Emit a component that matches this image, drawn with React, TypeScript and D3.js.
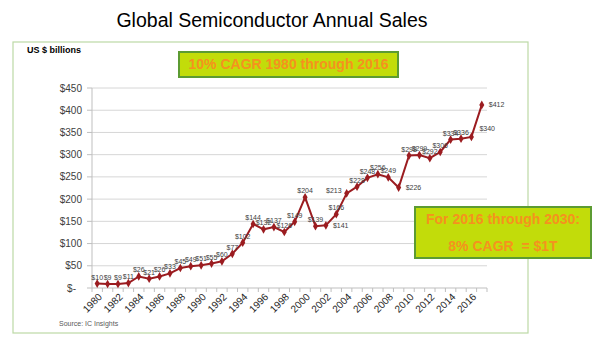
import React from "react";
import * as d3 from "d3";

const years: number[] = d3.range(1980, 2018);
const sales: number[] = [
  10, 9, 9, 11, 26, 21, 26, 33, 45, 49, 51, 55, 60, 77, 102, 144, 132, 137, 126, 149,
  204, 139, 141, 166, 213, 228, 248, 256, 249, 226, 298, 299, 292, 306, 334, 336, 340, 412,
];
// label placement: a = above, r = right, l = left, u = up-right
const labelPlace: string[] = [
  "a", "a", "a", "a", "a", "a", "a", "a", "a", "a", "a", "a", "a", "a", "a", "a", "a", "a", "a", "a",
  "a", "a", "r", "a", "l", "a", "a", "a", "a", "r", "a", "a", "a", "a", "a", "a", "u", "r",
];
const yTicks: number[] = [0, 50, 100, 150, 200, 250, 300, 350, 400, 450];
const title = "Global Semiconductor Annual Sales";
const unitLabel = "US $ billions";
const sourceLabel = "Source: IC Insights";
const box1Text = "10% CAGR 1980 through 2016";
const box2Lines: string[] = ["For 2016 through 2030:", "8% CAGR  = $1T"];

const FONT = "Liberation Sans, Arial, sans-serif";
const LINE = "#9b1c20";
const BOX_FILL = "#c2dc0a";
const BOX_STROKE = "#5c9b32";
const BOX_TEXT = "#f5921e";

export default function App() {
  const x = d3.scaleBand<number>().domain(years).range([92, 487]).padding(0);
  const y = d3.scaleLinear().domain([0, 450]).range([288, 88]);
  const cx = (yr: number) => (x(yr) as number) + x.bandwidth() / 2;

  const line = d3
    .line<number>()
    .x((_, i) => cx(years[i]))
    .y((d) => y(d));
  const diamond = d3.symbol().type(d3.symbolDiamond).size(22)() as string;

  const bandEdges = years.map((yr) => x(yr) as number).concat([487]);

  return (
    <svg
      width={600}
      height={356}
      style={{ position: "absolute", left: 0, top: 0, background: "#fff" }}
      fontFamily={FONT}
    >
      <rect x={0} y={0} width={600} height={356} fill="#fff" />
      <text x={272} y={27} textAnchor="middle" fontSize={19.5} fill="#000">
        {title}
      </text>
      <rect x={13} y={42} width={515} height={291} fill="#fff" stroke="#bcd9a6" strokeWidth={1.2} />
      <text x={27} y={53} fontSize={9} fontWeight="bold" fill="#000">
        {unitLabel}
      </text>

      {/* gridlines */}
      {yTicks.map((t) => (
        <g key={t}>
          <line x1={92} x2={487} y1={y(t)} y2={y(t)} stroke={t === 0 ? "#bfbfbf" : "#d6d6d6"} strokeWidth={1} />
          <line x1={87} x2={92} y1={y(t)} y2={y(t)} stroke="#bfbfbf" />
          <text
            x={t === 0 ? 76 : 82}
            y={y(t)}
            dy="0.35em"
            textAnchor="end"
            fontSize={10}
            fill="#404040"
          >
            {t === 0 ? "$-" : `$${t}`}
          </text>
        </g>
      ))}
      <line x1={92} x2={92} y1={88} y2={288} stroke="#bfbfbf" />
      {bandEdges.map((e, i) => (
        <line key={i} x1={e} x2={e} y1={288} y2={292} stroke="#bfbfbf" />
      ))}
      {years.map((yr, i) =>
        i % 2 === 0 ? (
          <text
            key={yr}
            transform={`translate(${cx(yr) + 3},${295}) rotate(-45)`}
            textAnchor="end"
            dy="0.35em"
            fontSize={10}
            fill="#262626"
          >
            {yr}
          </text>
        ) : null
      )}

      <path d={line(sales) as string} fill="none" stroke={LINE} strokeWidth={2} />
      {sales.map((v, i) => (
        <path key={i} d={diamond} transform={`translate(${cx(years[i])},${y(v)})`} fill={LINE} />
      ))}
      {sales.map((v, i) => {
        const px = cx(years[i]);
        const py = y(v);
        const p = labelPlace[i];
        let tx = px;
        let ty = py - 6.5;
        let anchor = "middle";
        if (p === "r") {
          tx = px + 7;
          ty = py;
          anchor = "start";
        } else if (p === "l") {
          tx = px - 5;
          ty = py - 3;
          anchor = "end";
        } else if (p === "u") {
          tx = px + 8;
          ty = py - 8;
          anchor = "start";
        }
        return (
          <text key={i} x={tx} y={ty} dy="0.35em" textAnchor={anchor} fontSize={7} fill="#404040">
            {`$${v}`}
          </text>
        );
      })}

      <text x={59} y={324} dy="0.35em" fontSize={7} fill="#595959">
        {sourceLabel}
      </text>

      <rect x={179} y={52} width={219} height={25} fill={BOX_FILL} stroke={BOX_STROKE} strokeWidth={2} />
      <text x={288.5} y={64.5} dy="0.35em" textAnchor="middle" fontSize={14} fontWeight="bold" fill={BOX_TEXT}>
        {box1Text}
      </text>

      <rect x={415} y={207} width={176} height={51} fill={BOX_FILL} stroke={BOX_STROKE} strokeWidth={2} />
      {box2Lines.map((s, i) => (
        <text
          key={i}
          x={503}
          y={219.5 + i * 26.5}
          dy="0.35em"
          textAnchor="middle"
          fontSize={14}
          fontWeight="bold"
          fill={BOX_TEXT}
          style={{ whiteSpace: "pre" }}
        >
          {s}
        </text>
      ))}
    </svg>
  );
}
